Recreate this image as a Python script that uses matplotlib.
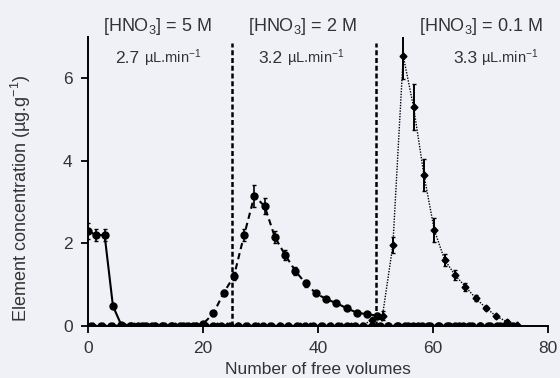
import matplotlib
matplotlib.use('Agg')
import matplotlib.pyplot as plt

# Elution profiles for three HNO3 concentrations (x = number of free volumes)
s1_x = [0, 1.45, 2.9, 4.35, 5.8, 7.25, 8.7, 10.15, 11.6, 13.05, 14.5, 15.95, 17.4,
        18.85, 20.3, 21.75, 23.2, 24.65, 26.1, 27.55, 29.0, 30.45, 31.9, 33.35, 34.8,
        36.25, 37.7, 39.15, 40.6, 42.05, 43.5, 44.95, 46.4, 47.85, 49.3, 50.75, 52.2,
        53.65, 55.1, 56.55, 58.0, 59.45, 60.9, 62.35, 63.8, 65.25, 66.7, 68.15, 69.6,
        71.05, 72.5, 73.95]
s1_y = [2.3, 2.2, 2.2, 0.48, 0.02, 0, 0, 0, 0, 0, 0, 0, 0,
        0, 0, 0, 0, 0, 0, 0, 0, 0, 0, 0, 0,
        0, 0, 0, 0, 0, 0, 0, 0, 0, 0, 0, 0,
        0, 0, 0, 0, 0, 0, 0, 0, 0, 0, 0, 0,
        0, 0, 0]
s1_err = [0.2, 0.15, 0.15, 0.05, 0, 0, 0, 0, 0, 0, 0, 0, 0,
          0, 0, 0, 0, 0, 0, 0, 0, 0, 0, 0, 0,
          0, 0, 0, 0, 0, 0, 0, 0, 0, 0, 0, 0,
          0, 0, 0, 0, 0, 0, 0, 0, 0, 0, 0, 0,
          0, 0, 0]

s2_x = [0.45, 2.23, 4.01, 5.79, 7.57, 9.35, 11.13, 12.91, 14.69, 16.47, 18.25,
        20.03, 21.81, 23.59, 25.37, 27.15, 28.93, 30.71, 32.49, 34.27, 36.05, 37.83,
        39.61, 41.39, 43.17, 44.95, 46.73, 48.51, 50.29,
        52.07, 53.85, 55.63, 57.41, 59.19, 60.97, 62.75, 64.53, 66.31, 68.09, 69.87,
        71.65, 73.43]
s2_y = [0, 0, 0, 0, 0, 0, 0, 0, 0, 0, 0,
        0.05, 0.3, 0.8, 1.2, 2.2, 3.15, 2.9, 2.15, 1.72, 1.33, 1.03,
        0.79, 0.65, 0.55, 0.43, 0.32, 0.28, 0.25,
        0, 0, 0, 0, 0, 0, 0, 0, 0, 0, 0,
        0, 0]
s2_err = [0, 0, 0, 0, 0, 0, 0, 0, 0, 0, 0,
          0.03, 0.05, 0.08, 0.1, 0.15, 0.26, 0.2, 0.15, 0.12, 0.1, 0.08,
          0.05, 0.05, 0.04, 0.04, 0.03, 0.05, 0.05,
          0, 0, 0, 0, 0, 0, 0, 0, 0, 0, 0,
          0, 0]

s3_x = [0.8, 2.6, 4.4, 6.2, 8.0, 9.8, 11.6, 13.4, 15.2, 17.0, 18.8, 20.6, 22.4,
        24.2, 26.0, 27.8, 29.6, 31.4, 33.2, 35.0, 36.8, 38.6, 40.4, 42.2, 44.0,
        45.8, 47.6, 49.4, 51.2, 53.0, 54.8, 56.6, 58.4, 60.2, 62.0, 63.8, 65.6,
        67.4, 69.2, 71.0, 72.8, 74.6]
s3_y = [0, 0, 0, 0, 0, 0, 0, 0, 0, 0, 0, 0, 0,
        0, 0, 0, 0, 0, 0, 0, 0, 0, 0, 0, 0,
        0, 0, 0.15, 0.25, 1.96, 6.54, 5.3, 3.66, 2.32, 1.6, 1.23, 0.95,
        0.67, 0.43, 0.23, 0.1, 0.02]
s3_err = [0, 0, 0, 0, 0, 0, 0, 0, 0, 0, 0, 0, 0,
          0, 0, 0, 0, 0, 0, 0, 0, 0, 0, 0, 0,
          0, 0, 0.05, 0.1, 0.2, 0.55, 0.55, 0.38, 0.3, 0.15, 0.12, 0.1,
          0.08, 0.05, 0.03, 0.03, 0.02]

stage_bounds = [25, 50]
stage_labels = ['[HNO$_3$] = 5 M', '[HNO$_3$] = 2 M', '[HNO$_3$] = 0.1 M']
stage_label_x = [12, 37.3, 68.3]
flow_rates = ['2.7', '3.2', '3.3']
flow_unit = 'µL.min$^{-1}$'
flow_label_x = [9.0, 33.9, 67.7]   # where the number ends and the unit starts

bg = '#eff1f7'
ink = '#333333'

plt.rcParams['font.family'] = ['Liberation Sans', 'DejaVu Sans']
plt.rcParams['mathtext.fontset'] = 'custom'
plt.rcParams['mathtext.rm'] = 'Liberation Sans'
plt.rcParams['mathtext.it'] = 'Liberation Sans:italic'

fig = plt.figure(figsize=(5.6, 3.78), dpi=100, facecolor=bg)
ax = fig.add_axes([0.157, 0.138, 0.822, 0.764])
ax.set_facecolor(bg)

# 5 M, solid
ax.errorbar(s1_x, s1_y, yerr=s1_err, color='black', lw=1.5, marker='o', ms=5,
            elinewidth=1.2, capsize=1.5, zorder=3)
# 2 M, dashed
ax.errorbar(s2_x, s2_y, yerr=s2_err, color='black', lw=1.5, ls=(0, (3, 2)), marker='o',
            ms=5, elinewidth=1.2, capsize=1.5, zorder=3)
# 0.1 M, dotted
ax.errorbar(s3_x, s3_y, yerr=s3_err, color='black', lw=1, ls=(0, (1, 1)), marker='D',
            ms=3.5, elinewidth=1.4, capsize=1.5, zorder=3)

for xb in stage_bounds:
    ax.plot([xb, xb], [0, 6.85], color='black', lw=1.8, ls=(0, (2, 1.1)), zorder=2)

for lab, xl in zip(stage_labels, stage_label_x):
    ax.text(xl, 7.25, lab, ha='center', va='center', fontsize=13, color=ink, clip_on=False)
for rate, xl in zip(flow_rates, flow_label_x):
    ax.text(xl, 6.36, rate, ha='right', va='baseline', fontsize=12.5, color=ink)
    ax.text(xl + 0.7, 6.36, flow_unit, ha='left', va='baseline', fontsize=10.5, color=ink)

ax.set_xlim(0, 80)
ax.set_ylim(0, 7)
ax.set_xticks([0, 20, 40, 60, 80])
ax.set_yticks([0, 2, 4, 6])
ax.spines['top'].set_visible(False)
ax.spines['right'].set_visible(False)
ax.spines['left'].set_linewidth(1.4)
ax.spines['bottom'].set_linewidth(1.4)
ax.tick_params(axis='both', labelsize=12.5, labelcolor=ink, color='black', width=1.3,
               length=5, pad=6)
ax.set_xlabel('Number of free volumes', fontsize=12.5, color=ink, labelpad=4)
ax.set_ylabel('Element concentration (µg.g$^{-1}$)', fontsize=13, color=ink)
ax.yaxis.set_label_coords(-0.12, 0.44)

fig.savefig('out.png', dpi=100, facecolor=bg)
